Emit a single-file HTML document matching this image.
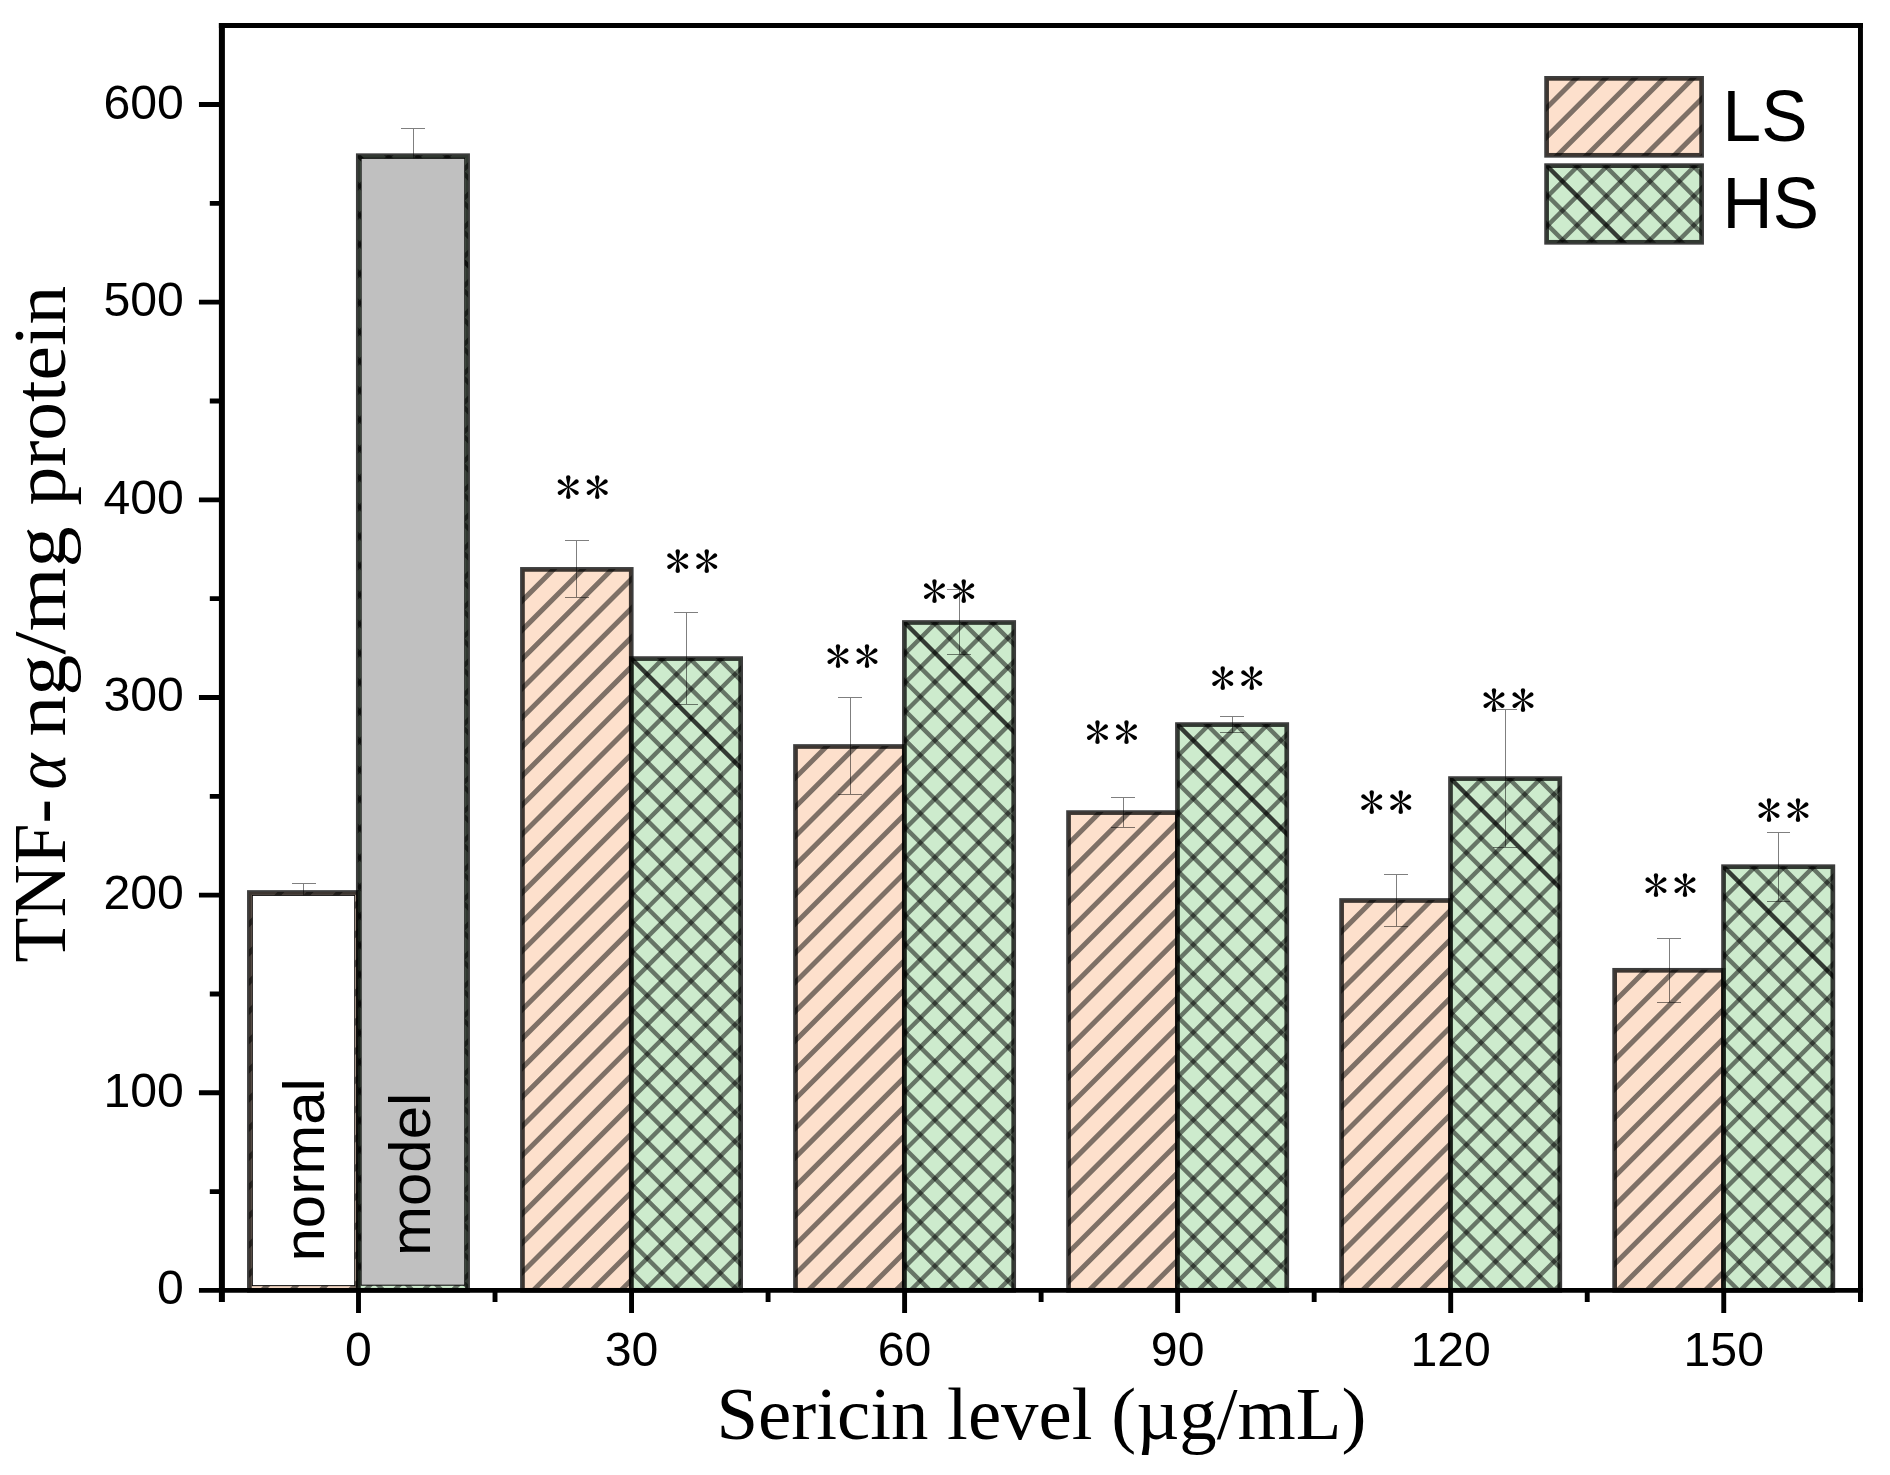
<!DOCTYPE html>
<html lang="en"><head><meta charset="utf-8"><title>TNF-α vs Sericin level</title>
<style>html,body{margin:0;padding:0;background:#fff;width:1890px;height:1475px;overflow:hidden}svg{display:block}.sans{font-family:"Liberation Sans",Arial,sans-serif}.serif{font-family:"Liberation Serif","Times New Roman",serif}</style></head><body>
<svg width="1890" height="1475" viewBox="0 0 1890 1475">
<rect width="1890" height="1475" fill="#fff"/>
<g id="bars">
<g>
<rect x="248.90" y="892.00" width="109.80" height="398.80" fill="#FBC199" fill-opacity="0.5"/>
<clipPath id="c1"><rect x="248.90" y="892.00" width="109.80" height="398.80"/></clipPath>
<g clip-path="url(#c1)" fill="none" stroke="#000" stroke-opacity="0.5" stroke-width="5.0">
<path d="M244.40 928.55L285.45 887.50M244.40 957.75L314.65 887.50M244.40 986.95L343.85 887.50M244.40 1016.15L373.05 887.50M244.40 1045.35L402.25 887.50M244.40 1074.55L431.45 887.50M244.40 1103.75L460.65 887.50M244.40 1132.95L489.85 887.50M244.40 1162.15L519.05 887.50M244.40 1191.35L548.25 887.50M244.40 1220.55L577.45 887.50M244.40 1249.75L606.65 887.50M244.40 1278.95L635.85 887.50M244.40 1308.15L665.05 887.50M244.40 1337.35L694.25 887.50M244.40 1366.55L723.45 887.50M244.40 1395.75L752.65 887.50M244.40 1424.95L781.85 887.50"/>
</g>
<rect x="249.40" y="892.50" width="108.80" height="397.80" fill="none" stroke="#000" stroke-opacity="0.76" stroke-width="4.7"/>
</g>
<g>
<rect x="357.80" y="155.20" width="110.30" height="1135.60" fill="#9BD79B" fill-opacity="0.5"/>
<clipPath id="c2"><rect x="357.80" y="155.20" width="110.30" height="1135.60"/></clipPath>
<g clip-path="url(#c2)" fill="none" stroke="#000" stroke-opacity="0.5" stroke-width="4.4">
<path d="M353.30 192.40L395.00 150.70M353.30 221.60L424.20 150.70M353.30 250.80L453.40 150.70M353.30 280.00L482.60 150.70M353.30 309.20L511.80 150.70M353.30 338.40L541.00 150.70M353.30 367.60L570.20 150.70M353.30 396.80L599.40 150.70M353.30 426.00L628.60 150.70M353.30 455.20L657.80 150.70M353.30 484.40L687.00 150.70M353.30 513.60L716.20 150.70M353.30 542.80L745.40 150.70M353.30 572.00L774.60 150.70M353.30 601.20L803.80 150.70M353.30 630.40L833.00 150.70M353.30 659.60L862.20 150.70M353.30 688.80L891.40 150.70M353.30 718.00L920.60 150.70M353.30 747.20L949.80 150.70M353.30 776.40L979.00 150.70M353.30 805.60L1008.20 150.70M353.30 834.80L1037.40 150.70M353.30 864.00L1066.60 150.70M353.30 893.20L1095.80 150.70M353.30 922.40L1125.00 150.70M353.30 951.60L1154.20 150.70M353.30 980.80L1183.40 150.70M353.30 1010.00L1212.60 150.70M353.30 1039.20L1241.80 150.70M353.30 1068.40L1271.00 150.70M353.30 1097.60L1300.20 150.70M353.30 1126.80L1329.40 150.70M353.30 1156.00L1358.60 150.70M353.30 1185.20L1387.80 150.70M353.30 1214.40L1417.00 150.70M353.30 1243.60L1446.20 150.70M353.30 1272.80L1475.40 150.70M353.30 1302.00L1504.60 150.70M353.30 1331.20L1533.80 150.70M353.30 1360.40L1563.00 150.70M353.30 1389.60L1592.20 150.70M353.30 1418.80L1621.40 150.70"/>
<path d="M-785.40 150.70L364.20 1300.30M-756.20 150.70L393.40 1300.30M-727.00 150.70L422.60 1300.30M-697.80 150.70L451.80 1300.30M-668.60 150.70L481.00 1300.30M-639.40 150.70L510.20 1300.30M-610.20 150.70L539.40 1300.30M-581.00 150.70L568.60 1300.30M-551.80 150.70L597.80 1300.30M-522.60 150.70L627.00 1300.30M-493.40 150.70L656.20 1300.30M-464.20 150.70L685.40 1300.30M-435.00 150.70L714.60 1300.30M-405.80 150.70L743.80 1300.30M-376.60 150.70L773.00 1300.30M-347.40 150.70L802.20 1300.30M-318.20 150.70L831.40 1300.30M-289.00 150.70L860.60 1300.30M-259.80 150.70L889.80 1300.30M-230.60 150.70L919.00 1300.30M-201.40 150.70L948.20 1300.30M-172.20 150.70L977.40 1300.30M-143.00 150.70L1006.60 1300.30M-113.80 150.70L1035.80 1300.30M-84.60 150.70L1065.00 1300.30M-55.40 150.70L1094.20 1300.30M-26.20 150.70L1123.40 1300.30M3.00 150.70L1152.60 1300.30M32.20 150.70L1181.80 1300.30M61.40 150.70L1211.00 1300.30M90.60 150.70L1240.20 1300.30M119.80 150.70L1269.40 1300.30M149.00 150.70L1298.60 1300.30M178.20 150.70L1327.80 1300.30M207.40 150.70L1357.00 1300.30M236.60 150.70L1386.20 1300.30M265.80 150.70L1415.40 1300.30M295.00 150.70L1444.60 1300.30M324.20 150.70L1473.80 1300.30M382.60 150.70L1532.20 1300.30M411.80 150.70L1561.40 1300.30M441.00 150.70L1590.60 1300.30M470.20 150.70L1619.80 1300.30"/>
<path d="M353.40 150.70L472.70 270.00" stroke-opacity="0.75"/>
</g>
<rect x="358.30" y="155.70" width="109.30" height="1134.60" fill="none" stroke="#000" stroke-opacity="0.76" stroke-width="4.7"/>
</g>
<g>
<rect x="521.95" y="568.90" width="109.80" height="721.90" fill="#FBC199" fill-opacity="0.5"/>
<clipPath id="c3"><rect x="521.95" y="568.90" width="109.80" height="721.90"/></clipPath>
<g clip-path="url(#c3)" fill="none" stroke="#000" stroke-opacity="0.5" stroke-width="5.0">
<path d="M517.45 605.45L558.50 564.40M517.45 634.65L587.70 564.40M517.45 663.85L616.90 564.40M517.45 693.05L646.10 564.40M517.45 722.25L675.30 564.40M517.45 751.45L704.50 564.40M517.45 780.65L733.70 564.40M517.45 809.85L762.90 564.40M517.45 839.05L792.10 564.40M517.45 868.25L821.30 564.40M517.45 897.45L850.50 564.40M517.45 926.65L879.70 564.40M517.45 955.85L908.90 564.40M517.45 985.05L938.10 564.40M517.45 1014.25L967.30 564.40M517.45 1043.45L996.50 564.40M517.45 1072.65L1025.70 564.40M517.45 1101.85L1054.90 564.40M517.45 1131.05L1084.10 564.40M517.45 1160.25L1113.30 564.40M517.45 1189.45L1142.50 564.40M517.45 1218.65L1171.70 564.40M517.45 1247.85L1200.90 564.40M517.45 1277.05L1230.10 564.40M517.45 1306.25L1259.30 564.40M517.45 1335.45L1288.50 564.40M517.45 1364.65L1317.70 564.40M517.45 1393.85L1346.90 564.40M517.45 1423.05L1376.10 564.40"/>
</g>
<rect x="522.45" y="569.40" width="108.80" height="720.90" fill="none" stroke="#000" stroke-opacity="0.76" stroke-width="4.7"/>
</g>
<g>
<rect x="630.85" y="658.10" width="110.30" height="632.70" fill="#9BD79B" fill-opacity="0.5"/>
<clipPath id="c4"><rect x="630.85" y="658.10" width="110.30" height="632.70"/></clipPath>
<g clip-path="url(#c4)" fill="none" stroke="#000" stroke-opacity="0.5" stroke-width="4.4">
<path d="M626.35 695.30L668.05 653.60M626.35 724.50L697.25 653.60M626.35 753.70L726.45 653.60M626.35 782.90L755.65 653.60M626.35 812.10L784.85 653.60M626.35 841.30L814.05 653.60M626.35 870.50L843.25 653.60M626.35 899.70L872.45 653.60M626.35 928.90L901.65 653.60M626.35 958.10L930.85 653.60M626.35 987.30L960.05 653.60M626.35 1016.50L989.25 653.60M626.35 1045.70L1018.45 653.60M626.35 1074.90L1047.65 653.60M626.35 1104.10L1076.85 653.60M626.35 1133.30L1106.05 653.60M626.35 1162.50L1135.25 653.60M626.35 1191.70L1164.45 653.60M626.35 1220.90L1193.65 653.60M626.35 1250.10L1222.85 653.60M626.35 1279.30L1252.05 653.60M626.35 1308.50L1281.25 653.60M626.35 1337.70L1310.45 653.60M626.35 1366.90L1339.65 653.60M626.35 1396.10L1368.85 653.60M626.35 1425.30L1398.05 653.60"/>
<path d="M-15.95 653.60L630.75 1300.30M13.25 653.60L659.95 1300.30M42.45 653.60L689.15 1300.30M71.65 653.60L718.35 1300.30M100.85 653.60L747.55 1300.30M130.05 653.60L776.75 1300.30M159.25 653.60L805.95 1300.30M188.45 653.60L835.15 1300.30M217.65 653.60L864.35 1300.30M246.85 653.60L893.55 1300.30M276.05 653.60L922.75 1300.30M305.25 653.60L951.95 1300.30M334.45 653.60L981.15 1300.30M363.65 653.60L1010.35 1300.30M392.85 653.60L1039.55 1300.30M422.05 653.60L1068.75 1300.30M451.25 653.60L1097.95 1300.30M480.45 653.60L1127.15 1300.30M509.65 653.60L1156.35 1300.30M538.85 653.60L1185.55 1300.30M568.05 653.60L1214.75 1300.30M597.25 653.60L1243.95 1300.30M655.65 653.60L1302.35 1300.30M684.85 653.60L1331.55 1300.30M714.05 653.60L1360.75 1300.30M743.25 653.60L1389.95 1300.30"/>
<path d="M626.45 653.60L745.75 772.90" stroke-opacity="0.75"/>
</g>
<rect x="631.35" y="658.60" width="109.30" height="631.70" fill="none" stroke="#000" stroke-opacity="0.76" stroke-width="4.7"/>
</g>
<g>
<rect x="795.00" y="746.00" width="109.80" height="544.80" fill="#FBC199" fill-opacity="0.5"/>
<clipPath id="c5"><rect x="795.00" y="746.00" width="109.80" height="544.80"/></clipPath>
<g clip-path="url(#c5)" fill="none" stroke="#000" stroke-opacity="0.5" stroke-width="5.0">
<path d="M790.50 782.55L831.55 741.50M790.50 811.75L860.75 741.50M790.50 840.95L889.95 741.50M790.50 870.15L919.15 741.50M790.50 899.35L948.35 741.50M790.50 928.55L977.55 741.50M790.50 957.75L1006.75 741.50M790.50 986.95L1035.95 741.50M790.50 1016.15L1065.15 741.50M790.50 1045.35L1094.35 741.50M790.50 1074.55L1123.55 741.50M790.50 1103.75L1152.75 741.50M790.50 1132.95L1181.95 741.50M790.50 1162.15L1211.15 741.50M790.50 1191.35L1240.35 741.50M790.50 1220.55L1269.55 741.50M790.50 1249.75L1298.75 741.50M790.50 1278.95L1327.95 741.50M790.50 1308.15L1357.15 741.50M790.50 1337.35L1386.35 741.50M790.50 1366.55L1415.55 741.50M790.50 1395.75L1444.75 741.50M790.50 1424.95L1473.95 741.50"/>
</g>
<rect x="795.50" y="746.50" width="108.80" height="543.80" fill="none" stroke="#000" stroke-opacity="0.76" stroke-width="4.7"/>
</g>
<g>
<rect x="903.90" y="622.00" width="110.30" height="668.80" fill="#9BD79B" fill-opacity="0.5"/>
<clipPath id="c6"><rect x="903.90" y="622.00" width="110.30" height="668.80"/></clipPath>
<g clip-path="url(#c6)" fill="none" stroke="#000" stroke-opacity="0.5" stroke-width="4.4">
<path d="M899.40 659.20L941.10 617.50M899.40 688.40L970.30 617.50M899.40 717.60L999.50 617.50M899.40 746.80L1028.70 617.50M899.40 776.00L1057.90 617.50M899.40 805.20L1087.10 617.50M899.40 834.40L1116.30 617.50M899.40 863.60L1145.50 617.50M899.40 892.80L1174.70 617.50M899.40 922.00L1203.90 617.50M899.40 951.20L1233.10 617.50M899.40 980.40L1262.30 617.50M899.40 1009.60L1291.50 617.50M899.40 1038.80L1320.70 617.50M899.40 1068.00L1349.90 617.50M899.40 1097.20L1379.10 617.50M899.40 1126.40L1408.30 617.50M899.40 1155.60L1437.50 617.50M899.40 1184.80L1466.70 617.50M899.40 1214.00L1495.90 617.50M899.40 1243.20L1525.10 617.50M899.40 1272.40L1554.30 617.50M899.40 1301.60L1583.50 617.50M899.40 1330.80L1612.70 617.50M899.40 1360.00L1641.90 617.50M899.40 1389.20L1671.10 617.50M899.40 1418.40L1700.30 617.50"/>
<path d="M227.90 617.50L910.70 1300.30M257.10 617.50L939.90 1300.30M286.30 617.50L969.10 1300.30M315.50 617.50L998.30 1300.30M344.70 617.50L1027.50 1300.30M373.90 617.50L1056.70 1300.30M403.10 617.50L1085.90 1300.30M432.30 617.50L1115.10 1300.30M461.50 617.50L1144.30 1300.30M490.70 617.50L1173.50 1300.30M519.90 617.50L1202.70 1300.30M549.10 617.50L1231.90 1300.30M578.30 617.50L1261.10 1300.30M607.50 617.50L1290.30 1300.30M636.70 617.50L1319.50 1300.30M665.90 617.50L1348.70 1300.30M695.10 617.50L1377.90 1300.30M724.30 617.50L1407.10 1300.30M753.50 617.50L1436.30 1300.30M782.70 617.50L1465.50 1300.30M811.90 617.50L1494.70 1300.30M841.10 617.50L1523.90 1300.30M870.30 617.50L1553.10 1300.30M928.70 617.50L1611.50 1300.30M957.90 617.50L1640.70 1300.30M987.10 617.50L1669.90 1300.30M1016.30 617.50L1699.10 1300.30"/>
<path d="M899.50 617.50L1018.80 736.80" stroke-opacity="0.75"/>
</g>
<rect x="904.40" y="622.50" width="109.30" height="667.80" fill="none" stroke="#000" stroke-opacity="0.76" stroke-width="4.7"/>
</g>
<g>
<rect x="1068.05" y="812.10" width="109.80" height="478.70" fill="#FBC199" fill-opacity="0.5"/>
<clipPath id="c7"><rect x="1068.05" y="812.10" width="109.80" height="478.70"/></clipPath>
<g clip-path="url(#c7)" fill="none" stroke="#000" stroke-opacity="0.5" stroke-width="5.0">
<path d="M1063.55 848.65L1104.60 807.60M1063.55 877.85L1133.80 807.60M1063.55 907.05L1163.00 807.60M1063.55 936.25L1192.20 807.60M1063.55 965.45L1221.40 807.60M1063.55 994.65L1250.60 807.60M1063.55 1023.85L1279.80 807.60M1063.55 1053.05L1309.00 807.60M1063.55 1082.25L1338.20 807.60M1063.55 1111.45L1367.40 807.60M1063.55 1140.65L1396.60 807.60M1063.55 1169.85L1425.80 807.60M1063.55 1199.05L1455.00 807.60M1063.55 1228.25L1484.20 807.60M1063.55 1257.45L1513.40 807.60M1063.55 1286.65L1542.60 807.60M1063.55 1315.85L1571.80 807.60M1063.55 1345.05L1601.00 807.60M1063.55 1374.25L1630.20 807.60M1063.55 1403.45L1659.40 807.60M1063.55 1432.65L1688.60 807.60"/>
</g>
<rect x="1068.55" y="812.60" width="108.80" height="477.70" fill="none" stroke="#000" stroke-opacity="0.76" stroke-width="4.7"/>
</g>
<g>
<rect x="1176.95" y="724.10" width="110.30" height="566.70" fill="#9BD79B" fill-opacity="0.5"/>
<clipPath id="c8"><rect x="1176.95" y="724.10" width="110.30" height="566.70"/></clipPath>
<g clip-path="url(#c8)" fill="none" stroke="#000" stroke-opacity="0.5" stroke-width="4.4">
<path d="M1172.45 761.30L1214.15 719.60M1172.45 790.50L1243.35 719.60M1172.45 819.70L1272.55 719.60M1172.45 848.90L1301.75 719.60M1172.45 878.10L1330.95 719.60M1172.45 907.30L1360.15 719.60M1172.45 936.50L1389.35 719.60M1172.45 965.70L1418.55 719.60M1172.45 994.90L1447.75 719.60M1172.45 1024.10L1476.95 719.60M1172.45 1053.30L1506.15 719.60M1172.45 1082.50L1535.35 719.60M1172.45 1111.70L1564.55 719.60M1172.45 1140.90L1593.75 719.60M1172.45 1170.10L1622.95 719.60M1172.45 1199.30L1652.15 719.60M1172.45 1228.50L1681.35 719.60M1172.45 1257.70L1710.55 719.60M1172.45 1286.90L1739.75 719.60M1172.45 1316.10L1768.95 719.60M1172.45 1345.30L1798.15 719.60M1172.45 1374.50L1827.35 719.60M1172.45 1403.70L1856.55 719.60M1172.45 1432.90L1885.75 719.60"/>
<path d="M588.55 719.60L1169.25 1300.30M617.75 719.60L1198.45 1300.30M646.95 719.60L1227.65 1300.30M676.15 719.60L1256.85 1300.30M705.35 719.60L1286.05 1300.30M734.55 719.60L1315.25 1300.30M763.75 719.60L1344.45 1300.30M792.95 719.60L1373.65 1300.30M822.15 719.60L1402.85 1300.30M851.35 719.60L1432.05 1300.30M880.55 719.60L1461.25 1300.30M909.75 719.60L1490.45 1300.30M938.95 719.60L1519.65 1300.30M968.15 719.60L1548.85 1300.30M997.35 719.60L1578.05 1300.30M1026.55 719.60L1607.25 1300.30M1055.75 719.60L1636.45 1300.30M1084.95 719.60L1665.65 1300.30M1114.15 719.60L1694.85 1300.30M1143.35 719.60L1724.05 1300.30M1201.75 719.60L1782.45 1300.30M1230.95 719.60L1811.65 1300.30M1260.15 719.60L1840.85 1300.30M1289.35 719.60L1870.05 1300.30"/>
<path d="M1172.55 719.60L1291.85 838.90" stroke-opacity="0.75"/>
</g>
<rect x="1177.45" y="724.60" width="109.30" height="565.70" fill="none" stroke="#000" stroke-opacity="0.76" stroke-width="4.7"/>
</g>
<g>
<rect x="1341.10" y="900.00" width="109.80" height="390.80" fill="#FBC199" fill-opacity="0.5"/>
<clipPath id="c9"><rect x="1341.10" y="900.00" width="109.80" height="390.80"/></clipPath>
<g clip-path="url(#c9)" fill="none" stroke="#000" stroke-opacity="0.5" stroke-width="5.0">
<path d="M1336.60 936.55L1377.65 895.50M1336.60 965.75L1406.85 895.50M1336.60 994.95L1436.05 895.50M1336.60 1024.15L1465.25 895.50M1336.60 1053.35L1494.45 895.50M1336.60 1082.55L1523.65 895.50M1336.60 1111.75L1552.85 895.50M1336.60 1140.95L1582.05 895.50M1336.60 1170.15L1611.25 895.50M1336.60 1199.35L1640.45 895.50M1336.60 1228.55L1669.65 895.50M1336.60 1257.75L1698.85 895.50M1336.60 1286.95L1728.05 895.50M1336.60 1316.15L1757.25 895.50M1336.60 1345.35L1786.45 895.50M1336.60 1374.55L1815.65 895.50M1336.60 1403.75L1844.85 895.50M1336.60 1432.95L1874.05 895.50"/>
</g>
<rect x="1341.60" y="900.50" width="108.80" height="389.80" fill="none" stroke="#000" stroke-opacity="0.76" stroke-width="4.7"/>
</g>
<g>
<rect x="1450.00" y="778.10" width="110.30" height="512.70" fill="#9BD79B" fill-opacity="0.5"/>
<clipPath id="c10"><rect x="1450.00" y="778.10" width="110.30" height="512.70"/></clipPath>
<g clip-path="url(#c10)" fill="none" stroke="#000" stroke-opacity="0.5" stroke-width="4.4">
<path d="M1445.50 815.30L1487.20 773.60M1445.50 844.50L1516.40 773.60M1445.50 873.70L1545.60 773.60M1445.50 902.90L1574.80 773.60M1445.50 932.10L1604.00 773.60M1445.50 961.30L1633.20 773.60M1445.50 990.50L1662.40 773.60M1445.50 1019.70L1691.60 773.60M1445.50 1048.90L1720.80 773.60M1445.50 1078.10L1750.00 773.60M1445.50 1107.30L1779.20 773.60M1445.50 1136.50L1808.40 773.60M1445.50 1165.70L1837.60 773.60M1445.50 1194.90L1866.80 773.60M1445.50 1224.10L1896.00 773.60M1445.50 1253.30L1925.20 773.60M1445.50 1282.50L1954.40 773.60M1445.50 1311.70L1983.60 773.60M1445.50 1340.90L2012.80 773.60M1445.50 1370.10L2042.00 773.60M1445.50 1399.30L2071.20 773.60M1445.50 1428.50L2100.40 773.60"/>
<path d="M920.00 773.60L1446.70 1300.30M949.20 773.60L1475.90 1300.30M978.40 773.60L1505.10 1300.30M1007.60 773.60L1534.30 1300.30M1036.80 773.60L1563.50 1300.30M1066.00 773.60L1592.70 1300.30M1095.20 773.60L1621.90 1300.30M1124.40 773.60L1651.10 1300.30M1153.60 773.60L1680.30 1300.30M1182.80 773.60L1709.50 1300.30M1212.00 773.60L1738.70 1300.30M1241.20 773.60L1767.90 1300.30M1270.40 773.60L1797.10 1300.30M1299.60 773.60L1826.30 1300.30M1328.80 773.60L1855.50 1300.30M1358.00 773.60L1884.70 1300.30M1387.20 773.60L1913.90 1300.30M1416.40 773.60L1943.10 1300.30M1474.80 773.60L2001.50 1300.30M1504.00 773.60L2030.70 1300.30M1533.20 773.60L2059.90 1300.30M1562.40 773.60L2089.10 1300.30"/>
<path d="M1445.60 773.60L1564.90 892.90" stroke-opacity="0.75"/>
</g>
<rect x="1450.50" y="778.60" width="109.30" height="511.70" fill="none" stroke="#000" stroke-opacity="0.76" stroke-width="4.7"/>
</g>
<g>
<rect x="1614.15" y="969.80" width="109.80" height="321.00" fill="#FBC199" fill-opacity="0.5"/>
<clipPath id="c11"><rect x="1614.15" y="969.80" width="109.80" height="321.00"/></clipPath>
<g clip-path="url(#c11)" fill="none" stroke="#000" stroke-opacity="0.5" stroke-width="5.0">
<path d="M1609.65 1006.35L1650.70 965.30M1609.65 1035.55L1679.90 965.30M1609.65 1064.75L1709.10 965.30M1609.65 1093.95L1738.30 965.30M1609.65 1123.15L1767.50 965.30M1609.65 1152.35L1796.70 965.30M1609.65 1181.55L1825.90 965.30M1609.65 1210.75L1855.10 965.30M1609.65 1239.95L1884.30 965.30M1609.65 1269.15L1913.50 965.30M1609.65 1298.35L1942.70 965.30M1609.65 1327.55L1971.90 965.30M1609.65 1356.75L2001.10 965.30M1609.65 1385.95L2030.30 965.30M1609.65 1415.15L2059.50 965.30"/>
</g>
<rect x="1614.65" y="970.30" width="108.80" height="320.00" fill="none" stroke="#000" stroke-opacity="0.76" stroke-width="4.7"/>
</g>
<g>
<rect x="1723.05" y="866.20" width="110.30" height="424.60" fill="#9BD79B" fill-opacity="0.5"/>
<clipPath id="c12"><rect x="1723.05" y="866.20" width="110.30" height="424.60"/></clipPath>
<g clip-path="url(#c12)" fill="none" stroke="#000" stroke-opacity="0.5" stroke-width="4.4">
<path d="M1718.55 903.40L1760.25 861.70M1718.55 932.60L1789.45 861.70M1718.55 961.80L1818.65 861.70M1718.55 991.00L1847.85 861.70M1718.55 1020.20L1877.05 861.70M1718.55 1049.40L1906.25 861.70M1718.55 1078.60L1935.45 861.70M1718.55 1107.80L1964.65 861.70M1718.55 1137.00L1993.85 861.70M1718.55 1166.20L2023.05 861.70M1718.55 1195.40L2052.25 861.70M1718.55 1224.60L2081.45 861.70M1718.55 1253.80L2110.65 861.70M1718.55 1283.00L2139.85 861.70M1718.55 1312.20L2169.05 861.70M1718.55 1341.40L2198.25 861.70M1718.55 1370.60L2227.45 861.70M1718.55 1399.80L2256.65 861.70M1718.55 1429.00L2285.85 861.70"/>
<path d="M1280.65 861.70L1719.25 1300.30M1309.85 861.70L1748.45 1300.30M1339.05 861.70L1777.65 1300.30M1368.25 861.70L1806.85 1300.30M1397.45 861.70L1836.05 1300.30M1426.65 861.70L1865.25 1300.30M1455.85 861.70L1894.45 1300.30M1485.05 861.70L1923.65 1300.30M1514.25 861.70L1952.85 1300.30M1543.45 861.70L1982.05 1300.30M1572.65 861.70L2011.25 1300.30M1601.85 861.70L2040.45 1300.30M1631.05 861.70L2069.65 1300.30M1660.25 861.70L2098.85 1300.30M1689.45 861.70L2128.05 1300.30M1747.85 861.70L2186.45 1300.30M1777.05 861.70L2215.65 1300.30M1806.25 861.70L2244.85 1300.30M1835.45 861.70L2274.05 1300.30"/>
<path d="M1718.65 861.70L1837.95 981.00" stroke-opacity="0.75"/>
</g>
<rect x="1723.55" y="866.70" width="109.30" height="423.60" fill="none" stroke="#000" stroke-opacity="0.76" stroke-width="4.7"/>
</g>
</g>
<g id="err" fill="none" stroke="#000" stroke-opacity="0.5" stroke-width="1">
<path d="M292 883.5H316M292 901.5H316M303.5 884V901M401 128.5H425M401 183.5H425M413.5 129V183"/>
</g>
<g id="overlay" stroke="#000" stroke-width="1">
<rect x="252.3" y="895.35" width="102.45" height="390.3" fill="#fff"/>
<rect x="361.1" y="158.3" width="103.7" height="1126.9" fill="#C0C0C0"/>
</g>
<g id="err2" fill="none" stroke="#000" stroke-opacity="0.5" stroke-width="1"><path d="M565 540.5H589M565 597.5H589M576.5 541V597M674 612.5H698M674 704.5H698M686.5 613V704M838 697.5H862M838 794.5H862M850.5 698V794M947 589.5H971M947 654.5H971M959.5 590V654M1111 797.5H1135M1111 827.5H1135M1123.5 798V827M1220 716.5H1244M1220 732.5H1244M1232.5 717V732M1384 874.5H1408M1384 926.5H1408M1396.5 875V926M1493 709.5H1517M1493 847.5H1517M1505.5 710V847M1657 938.5H1681M1657 1002.5H1681M1669.5 939V1002M1767 832.5H1790M1767 901.5H1790M1778.5 833V901"/></g>
<g id="axes" stroke="#000" fill="none" stroke-linecap="butt">
<path d="M221.9 1301.9V23.05" stroke-width="6"/>
<path d="M218.9 25.47H1862.95" stroke-width="4.85"/>
<path d="M1860.47 23.05V1301.9" stroke-width="4.95"/>
<path d="M198.95 1290.45H1862.95" stroke-width="4.75"/>
<path d="M198.95 1092.79H221M198.95 895.13H221M198.95 697.48H221M198.95 499.82H221M198.95 302.16H221M198.95 104.50H221M209.8 1191.62H221M209.8 993.96H221M209.8 796.31H221M209.8 598.65H221M209.8 400.99H221M209.8 203.33H221" stroke-width="4.85"/>
<path d="M358.50 1290.45V1312.9M631.55 1290.45V1312.9M904.60 1290.45V1312.9M1177.65 1290.45V1312.9M1450.70 1290.45V1312.9M1723.75 1290.45V1312.9M495.02 1290.45V1301.9M768.08 1290.45V1301.9M1041.12 1290.45V1301.9M1314.18 1290.45V1301.9M1587.23 1290.45V1301.9" stroke-width="4.9"/>
</g>
<g class="sans" font-size="48.2" fill="#000">
<text transform="translate(183.85 1304.45)" text-anchor="end">0</text>
<text transform="translate(183.85 1106.79)" text-anchor="end">100</text>
<text transform="translate(183.85 909.13)" text-anchor="end">200</text>
<text transform="translate(183.85 711.48)" text-anchor="end">300</text>
<text transform="translate(183.85 513.82)" text-anchor="end">400</text>
<text transform="translate(183.85 316.16)" text-anchor="end">500</text>
<text transform="translate(183.85 118.50)" text-anchor="end">600</text>
<text transform="translate(358.50 1366.1)" text-anchor="middle">0</text>
<text transform="translate(631.55 1366.1)" text-anchor="middle">30</text>
<text transform="translate(904.60 1366.1)" text-anchor="middle">60</text>
<text transform="translate(1177.65 1366.1)" text-anchor="middle">90</text>
<text transform="translate(1450.70 1366.1)" text-anchor="middle">120</text>
<text transform="translate(1723.75 1366.1)" text-anchor="middle">150</text>
</g>
<g class="sans" font-size="58" fill="#000">
<text transform="translate(324.4 1261.5) rotate(-90) scale(1.035 0.985)">normal</text>
<text transform="translate(430.1 1256) rotate(-90) scale(1.035 0.985)">model</text>
</g>
<g font-family="IPAGothic,'Liberation Serif',serif" font-size="50" letter-spacing="4.05" fill="#000">
<text transform="translate(555.7 505.2) scale(1 0.96)">**</text>
<text transform="translate(665.3 579.1) scale(1 0.96)">**</text>
<text transform="translate(825.4 673.6) scale(1 0.96)">**</text>
<text transform="translate(922.1 609.4) scale(1 0.96)">**</text>
<text transform="translate(1085.0 749.5) scale(1 0.96)">**</text>
<text transform="translate(1210.3 695.6) scale(1 0.96)">**</text>
<text transform="translate(1359.3 820.3) scale(1 0.96)">**</text>
<text transform="translate(1481.5 718.3) scale(1 0.96)">**</text>
<text transform="translate(1643.5 902.6) scale(1 0.96)">**</text>
<text transform="translate(1756.5 827.5) scale(1 0.96)">**</text>
</g>
<g>
<rect x="1546.10" y="77.85" width="156.00" height="77.95" fill="#FBC199" fill-opacity="0.5"/>
<clipPath id="c13"><rect x="1546.10" y="77.85" width="156.00" height="77.95"/></clipPath>
<g clip-path="url(#c13)" fill="none" stroke="#000" stroke-opacity="0.5" stroke-width="5.0">
<path d="M1541.60 112.85L1581.10 73.35M1541.60 142.05L1610.30 73.35M1541.60 171.25L1639.50 73.35M1541.60 200.45L1668.70 73.35M1541.60 229.65L1697.90 73.35M1541.60 258.85L1727.10 73.35M1541.60 288.05L1756.30 73.35M1541.60 317.25L1785.50 73.35"/>
</g>
<rect x="1546.60" y="78.35" width="155.00" height="76.95" fill="none" stroke="#000" stroke-opacity="0.76" stroke-width="4.7"/>
</g>
<g>
<rect x="1546.10" y="165.15" width="156.00" height="77.65" fill="#9BD79B" fill-opacity="0.5"/>
<clipPath id="c14"><rect x="1546.10" y="165.15" width="156.00" height="77.65"/></clipPath>
<g clip-path="url(#c14)" fill="none" stroke="#000" stroke-opacity="0.5" stroke-width="4.4">
<path d="M1541.60 202.35L1583.30 160.65M1541.60 231.55L1612.50 160.65M1541.60 260.75L1641.70 160.65M1541.60 289.95L1670.90 160.65M1541.60 319.15L1700.10 160.65M1541.60 348.35L1729.30 160.65M1541.60 377.55L1758.50 160.65M1541.60 406.75L1787.70 160.65"/>
<path d="M1454.10 160.65L1545.75 252.30M1483.30 160.65L1574.95 252.30M1512.50 160.65L1604.15 252.30M1570.90 160.65L1662.55 252.30M1600.10 160.65L1691.75 252.30M1629.30 160.65L1720.95 252.30M1658.50 160.65L1750.15 252.30M1687.70 160.65L1779.35 252.30M1716.90 160.65L1808.55 252.30"/>
<path d="M1541.70 160.65L1628.35 247.30" stroke-opacity="0.75"/>
</g>
<rect x="1546.60" y="165.65" width="155.00" height="76.65" fill="none" stroke="#000" stroke-opacity="0.76" stroke-width="4.7"/>
</g>
<g class="sans" font-size="70" fill="#000">
<text transform="translate(1722.6 140.9) scale(0.99 1.045)">LS</text>
<text transform="translate(1722.6 228.1) scale(0.99 1.045)">HS</text>
</g>
<g class="serif" fill="#000">
<text id="xt" x="716.4" y="1439" font-size="73" textLength="650" lengthAdjust="spacingAndGlyphs">Sericin level (µg/mL)</text>
<g id="yt" font-size="73">
<text transform="translate(64.5 962.4) rotate(-90) scale(1.007 1)">TNF-</text>
<text transform="translate(64.5 789.4) rotate(-90) scale(0.935 1)" font-style="italic">α</text>
<text transform="translate(64.5 736.8) rotate(-90) scale(1.128 1)">ng/mg</text>
<text transform="translate(64.5 505.4) rotate(-90) scale(1.063 1)">protein</text>
</g>
</g>
</svg></body></html>
